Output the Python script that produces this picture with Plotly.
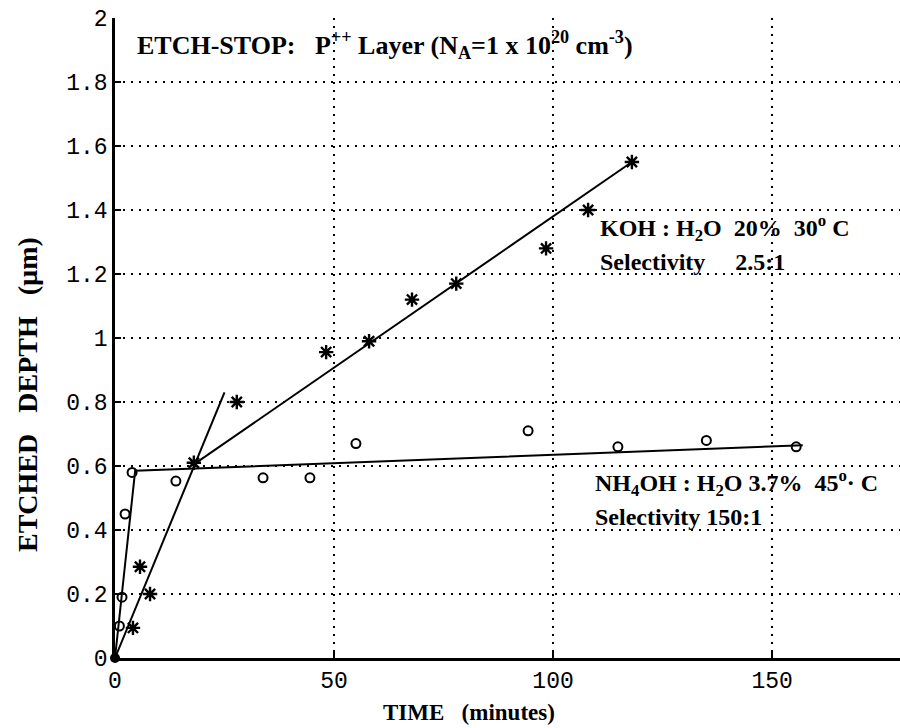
import plotly.graph_objects as go

# KOH:H2O measured points (time in minutes, depth in um)
koh_t = [0, 4.1, 5.7, 8.0, 18.0, 27.8, 48.2, 58.0, 67.8, 77.9, 98.4, 108.0, 118.0]
koh_d = [0, 0.094, 0.285, 0.20, 0.61, 0.80, 0.956, 0.99, 1.12, 1.17, 1.28, 1.40, 1.55]

# NH4OH:H2O measured points
nh_t = [0, 1.0, 1.6, 2.3, 3.9, 13.9, 33.8, 44.5, 55.0, 94.3, 114.8, 135.0, 155.5]
nh_d = [0, 0.10, 0.19, 0.45, 0.58, 0.553, 0.563, 0.563, 0.67, 0.71, 0.66, 0.68, 0.66]

# fitted lines (end points)
koh_fit1_t = [0, 25.0]
koh_fit1_d = [0, 0.83]
koh_fit2_t = [18.0, 118.0]
koh_fit2_d = [0.605, 1.55]
nh_fit_t = [0, 4.6, 157.0]
nh_fit_d = [0, 0.585, 0.665]

x_ticks = [0, 50, 100, 150]
y_ticks = [0, 0.2, 0.4, 0.6, 0.8, 1.0, 1.2, 1.4, 1.6, 1.8, 2.0]
y_tick_text = ["0", "0.2", "0.4", "0.6", "0.8", "1", "1.2", "1.4", "1.6", "1.8", "2"]

fig = go.Figure()
line_style = dict(color="black", width=2)
for tx, ty in [(koh_fit1_t, koh_fit1_d), (koh_fit2_t, koh_fit2_d), (nh_fit_t, nh_fit_d)]:
    fig.add_trace(go.Scatter(x=tx, y=ty, mode="lines", line=line_style,
                             showlegend=False, hoverinfo="skip"))

fig.add_trace(go.Scatter(x=koh_t[1:], y=koh_d[1:], mode="markers",
                         marker=dict(symbol="asterisk-open", size=12, color="black",
                                     line=dict(color="black", width=2.4)),
                         showlegend=False))
fig.add_trace(go.Scatter(x=nh_t[1:], y=nh_d[1:], mode="markers",
                         marker=dict(symbol="circle-open", size=9, color="black",
                                     line=dict(color="black", width=2)),
                         showlegend=False))
fig.add_trace(go.Scatter(x=[nh_t[0]], y=[nh_d[0]], mode="markers",
                         marker=dict(symbol="circle", size=10, color="black"),
                         showlegend=False, cliponaxis=False))

NB = "\u00a0"
serif = "Liberation Serif"
ann = []
ann.append(dict(x=4.6, y=1.915, xref="x", yref="y", xanchor="left", yanchor="middle",
                text="<b>ETCH-STOP:" + NB * 3 + "P<sup>++</sup> Layer (N<sub>A</sub>=1 x 10<sup>20</sup> cm<sup>-3</sup>)</b>",
                showarrow=False, font=dict(family=serif, size=26, color="black")))
ann.append(dict(x=110.3, y=1.344, xref="x", yref="y", xanchor="left", yanchor="middle",
                text="<b>KOH : H<sub>2</sub>O" + NB * 2 + "20%" + NB * 2 + "30<sup>o</sup> C</b>",
                showarrow=False, font=dict(family=serif, size=24, color="black")))
ann.append(dict(x=110.3, y=1.2375, xref="x", yref="y", xanchor="left", yanchor="middle",
                text="<b>Selectivity" + NB * 5 + "2.5:1</b>",
                showarrow=False, font=dict(family=serif, size=24, color="black")))
ann.append(dict(x=109.1, y=0.547, xref="x", yref="y", xanchor="left", yanchor="middle",
                text="<b>NH<sub>4</sub>OH : H<sub>2</sub>O 3.7%" + NB * 2 + "45<sup>o</sup>· C</b>",
                showarrow=False, font=dict(family=serif, size=24, color="black")))
ann.append(dict(x=109.1, y=0.44, xref="x", yref="y", xanchor="left", yanchor="middle",
                text="<b>Selectivity 150:1</b>",
                showarrow=False, font=dict(family=serif, size=24, color="black")))
ann.append(dict(x=(469 - 115) / 785, y=(658 - 712) / 640, xref="paper", yref="paper",
                xanchor="center", yanchor="middle",
                text="<b>TIME" + NB * 3 + "(minutes)</b>", showarrow=False,
                font=dict(family=serif, size=23, color="black")))
ann.append(dict(x=(27 - 115) / 785, y=(658 - 395) / 640, xref="paper", yref="paper",
                xanchor="center", yanchor="middle", textangle=-90,
                text="<b>ETCHED" + NB * 3 + "DEPTH" + NB * 3 + "(µm)</b>", showarrow=False,
                font=dict(family=serif, size=28, color="black")))

mono = "Liberation Mono"
fig.update_layout(
    width=900, height=728,
    margin=dict(l=115, r=0, t=18, b=70),
    paper_bgcolor="white", plot_bgcolor="white",
    annotations=ann,
    xaxis=dict(range=[0, 179.2], tickvals=x_ticks, ticktext=[str(v) for v in x_ticks],
               showgrid=True, gridcolor="black", gridwidth=2, griddash="2px,6px",
               zeroline=False, showline=True, linecolor="black", linewidth=2.5,
               ticks="inside", ticklen=8, tickwidth=2, tickcolor="black",
               tickfont=dict(family=mono, size=23, color="black")),
    yaxis=dict(range=[0, 2.0], tickvals=y_ticks, ticktext=y_tick_text,
               showgrid=True, gridcolor="black", gridwidth=2, griddash="2px,6px",
               zeroline=False, showline=True, linecolor="black", linewidth=2.5,
               ticks="inside", ticklen=6, tickwidth=2, tickcolor="black",
               tickfont=dict(family=mono, size=23, color="black")),
)

fig.write_html("out.html")
